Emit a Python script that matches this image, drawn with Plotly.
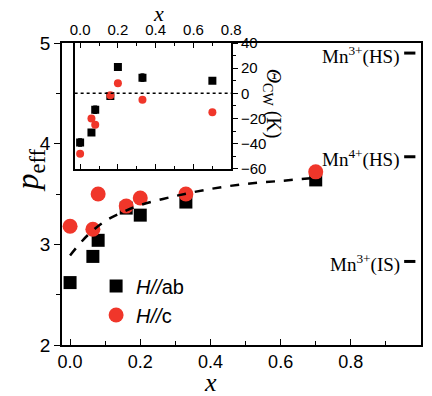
import plotly.graph_objects as go

# ---- main panel data: effective moment vs x ----
x_ab = [0.0, 0.065, 0.08, 0.16, 0.2, 0.33, 0.70]
p_ab = [2.62, 2.88, 3.04, 3.36, 3.29, 3.42, 3.64]
x_c = [0.0, 0.065, 0.08, 0.16, 0.2, 0.33, 0.70]
p_c = [3.18, 3.15, 3.50, 3.38, 3.46, 3.50, 3.72]

# dashed guide curve
x_fit = [0.0, 0.05, 0.1, 0.15, 0.2, 0.3, 0.4, 0.5, 0.6, 0.7]
p_fit = [2.89, 3.09, 3.23, 3.32, 3.39, 3.48, 3.55, 3.60, 3.63, 3.66]

# spin-only reference levels
mn_labels = ["Mn<sup>3+</sup>(HS)", "Mn<sup>4+</sup>(HS)", "Mn<sup>3+</sup>(IS)"]
mn_values = [4.90, 3.87, 2.83]

# ---- inset data: Curie-Weiss temperature ----
xi_ab = [0.0, 0.06, 0.08, 0.16, 0.2, 0.33, 0.70]
th_ab = [-39, -31, -13, -2, 21, 12.5, 10]
th_ab_err = [3, 1.5, 3, 2, 1.5, 3, 1.5]
xi_c = [0.0, 0.06, 0.08, 0.16, 0.2, 0.33, 0.70]
th_c = [-48, -20, -25, -1.5, 8, -5, -15]

main_ticks = [0.0, 0.2, 0.4, 0.6, 0.8]
inset_ticks = [0.0, 0.2, 0.4, 0.6, 0.8]

RED = "#f0362a"
SANS = "Liberation Sans, Arial, sans-serif"
SERIF = "Liberation Serif, Times New Roman, serif"

fig = go.Figure()

fig.add_trace(go.Scatter(x=x_ab, y=p_ab, mode="markers", name="<i>H//</i>ab",
                         marker=dict(symbol="square", size=13, color="black"),
                         xaxis="x", yaxis="y"))
fig.add_trace(go.Scatter(x=x_c, y=p_c, mode="markers", name="<i>H//</i>c",
                         marker=dict(symbol="circle", size=15, color=RED),
                         xaxis="x", yaxis="y"))
fig.add_trace(go.Scatter(x=x_fit, y=p_fit, mode="lines", showlegend=False,
                         line=dict(color="black", width=2.5, dash="dash", shape="spline"),
                         xaxis="x", yaxis="y"))

fig.add_trace(go.Scatter(x=xi_ab, y=th_ab, mode="markers", showlegend=False,
                         marker=dict(symbol="square", size=8, color="black"),
                         error_y=dict(type="data", array=th_ab_err, color="black",
                                      thickness=1, width=2),
                         xaxis="x2", yaxis="y2"))
fig.add_trace(go.Scatter(x=xi_c, y=th_c, mode="markers", showlegend=False,
                         marker=dict(symbol="circle", size=8, color=RED),
                         xaxis="x2", yaxis="y2"))

fig.add_shape(type="line", xref="x2 domain", yref="y2", x0=0, x1=1, y0=0, y1=0,
              line=dict(color="black", width=1.5, dash="dot"))

for lab, v in zip(mn_labels, mn_values):
    fig.add_annotation(x=0.945, y=v, xref="x", yref="y", text=lab, showarrow=False,
                       xanchor="right", yanchor="middle", yshift=-2,
                       font=dict(family=SERIF, size=19, color="black"))
    fig.add_shape(type="line", xref="x", yref="y", x0=0.952, x1=0.984, y0=v, y1=v,
                  line=dict(color="black", width=3))

axis_common = dict(showline=True, linecolor="black", linewidth=1.5, showgrid=False,
                   zeroline=False, tickcolor="black")

fig.update_layout(
    width=432, height=396,
    margin=dict(l=62, r=1, t=43, b=51),
    paper_bgcolor="white", plot_bgcolor="white",
    showlegend=True,
    legend=dict(x=0.095, y=0.26, xanchor="left", yanchor="top",
                bgcolor="rgba(0,0,0,0)", itemsizing="trace",
                font=dict(family=SANS, size=20, color="black"), tracegroupgap=0),
    xaxis=dict(domain=[0, 1], range=[-0.023, 1.0], tickvals=main_ticks,
               ticktext=[f"{t:.1f}" for t in main_ticks], ticks="inside", ticklen=6,
               minor=dict(tickvals=[0.1, 0.3, 0.5, 0.7, 0.9], ticks="inside", ticklen=4,
                          tickcolor="black"),
               mirror=True, tickfont=dict(family=SANS, size=18, color="black"),
               anchor="y", **axis_common),
    yaxis=dict(domain=[0, 1], range=[2, 5], tickvals=[2, 3, 4, 5], ticks="outside",
               ticklen=6,
               minor=dict(tickvals=[2.5, 3.5, 4.5], ticks="outside", ticklen=4,
                          tickcolor="black"),
               mirror=True, tickfont=dict(family=SANS, size=19, color="black"),
               anchor="x", **axis_common),
    yaxis3=dict(overlaying="y", side="right", anchor="x", range=[2, 5],
                tickvals=[2.5, 3, 3.5, 4, 4.5], ticks="inside", ticklen=5,
                showticklabels=False, showgrid=False, zeroline=False,
                showline=False, tickcolor="black"),
    xaxis2=dict(domain=[0.0352, 0.4715], range=[-0.029, 0.8], anchor="y2", side="top",
                tickvals=inset_ticks, ticktext=[f"{t:.1f}" for t in inset_ticks],
                ticks="inside", ticklen=5,
                minor=dict(tickvals=[0.1, 0.3, 0.5, 0.7], ticks="inside", ticklen=3,
                           tickcolor="black"),
                mirror="ticks", tickfont=dict(family=SANS, size=15, color="black"),
                **axis_common),
    yaxis2=dict(domain=[0.583, 1.0], range=[-60, 40], anchor="x2", side="right",
                tickvals=[-60, -40, -20, 0, 20, 40], ticks="outside", ticklen=5,
                minor=dict(tickvals=[-50, -30, -10, 10, 30], ticks="outside", ticklen=3,
                           tickcolor="black"),
                mirror=True, tickfont=dict(family=SANS, size=15, color="black"),
                **axis_common),
    yaxis4=dict(overlaying="y2", side="left", anchor="x2", range=[-60, 40],
                tickvals=[-50, -40, -30, -20, -10, 0, 10, 20, 30], ticks="inside",
                ticklen=4, showticklabels=False, showgrid=False, zeroline=False,
                showline=False, tickcolor="black"),
)

# axis titles
fig.add_annotation(x=0.415, y=-(382 - 345) / 302, xref="paper", yref="paper",
                   text="<i>x</i>", height=20, valign="middle",
                   showarrow=False, font=dict(family=SERIF, size=26, color="black"),
                   xanchor="center", yanchor="middle")
fig.add_annotation(x=0.27, y=1 + (43 - 13) / 302, xref="paper", yref="paper",
                   text="<i>x</i>", height=16, valign="middle",
                   showarrow=False, font=dict(family=SERIF, size=22, color="black"),
                   xanchor="center", yanchor="middle")
fig.add_annotation(x=-0.09, y=0.58, xref="paper", yref="paper",
                   text="<i>p</i><sub>eff</sub>", textangle=-90,
                   showarrow=False, font=dict(family=SERIF, size=32, color="black"),
                   xanchor="center", yanchor="middle")
fig.add_annotation(x=0.587, y=0.80, xref="paper", yref="paper",
                   text="<i>Θ</i><sub>CW</sub> (K)", textangle=90,
                   showarrow=False, font=dict(family=SERIF, size=20, color="black"),
                   xanchor="center", yanchor="middle")

fig.write_html("out.html", config={"displayModeBar": False},
               post_script="document.body.style.margin='0';document.body.style.overflow='hidden';")
